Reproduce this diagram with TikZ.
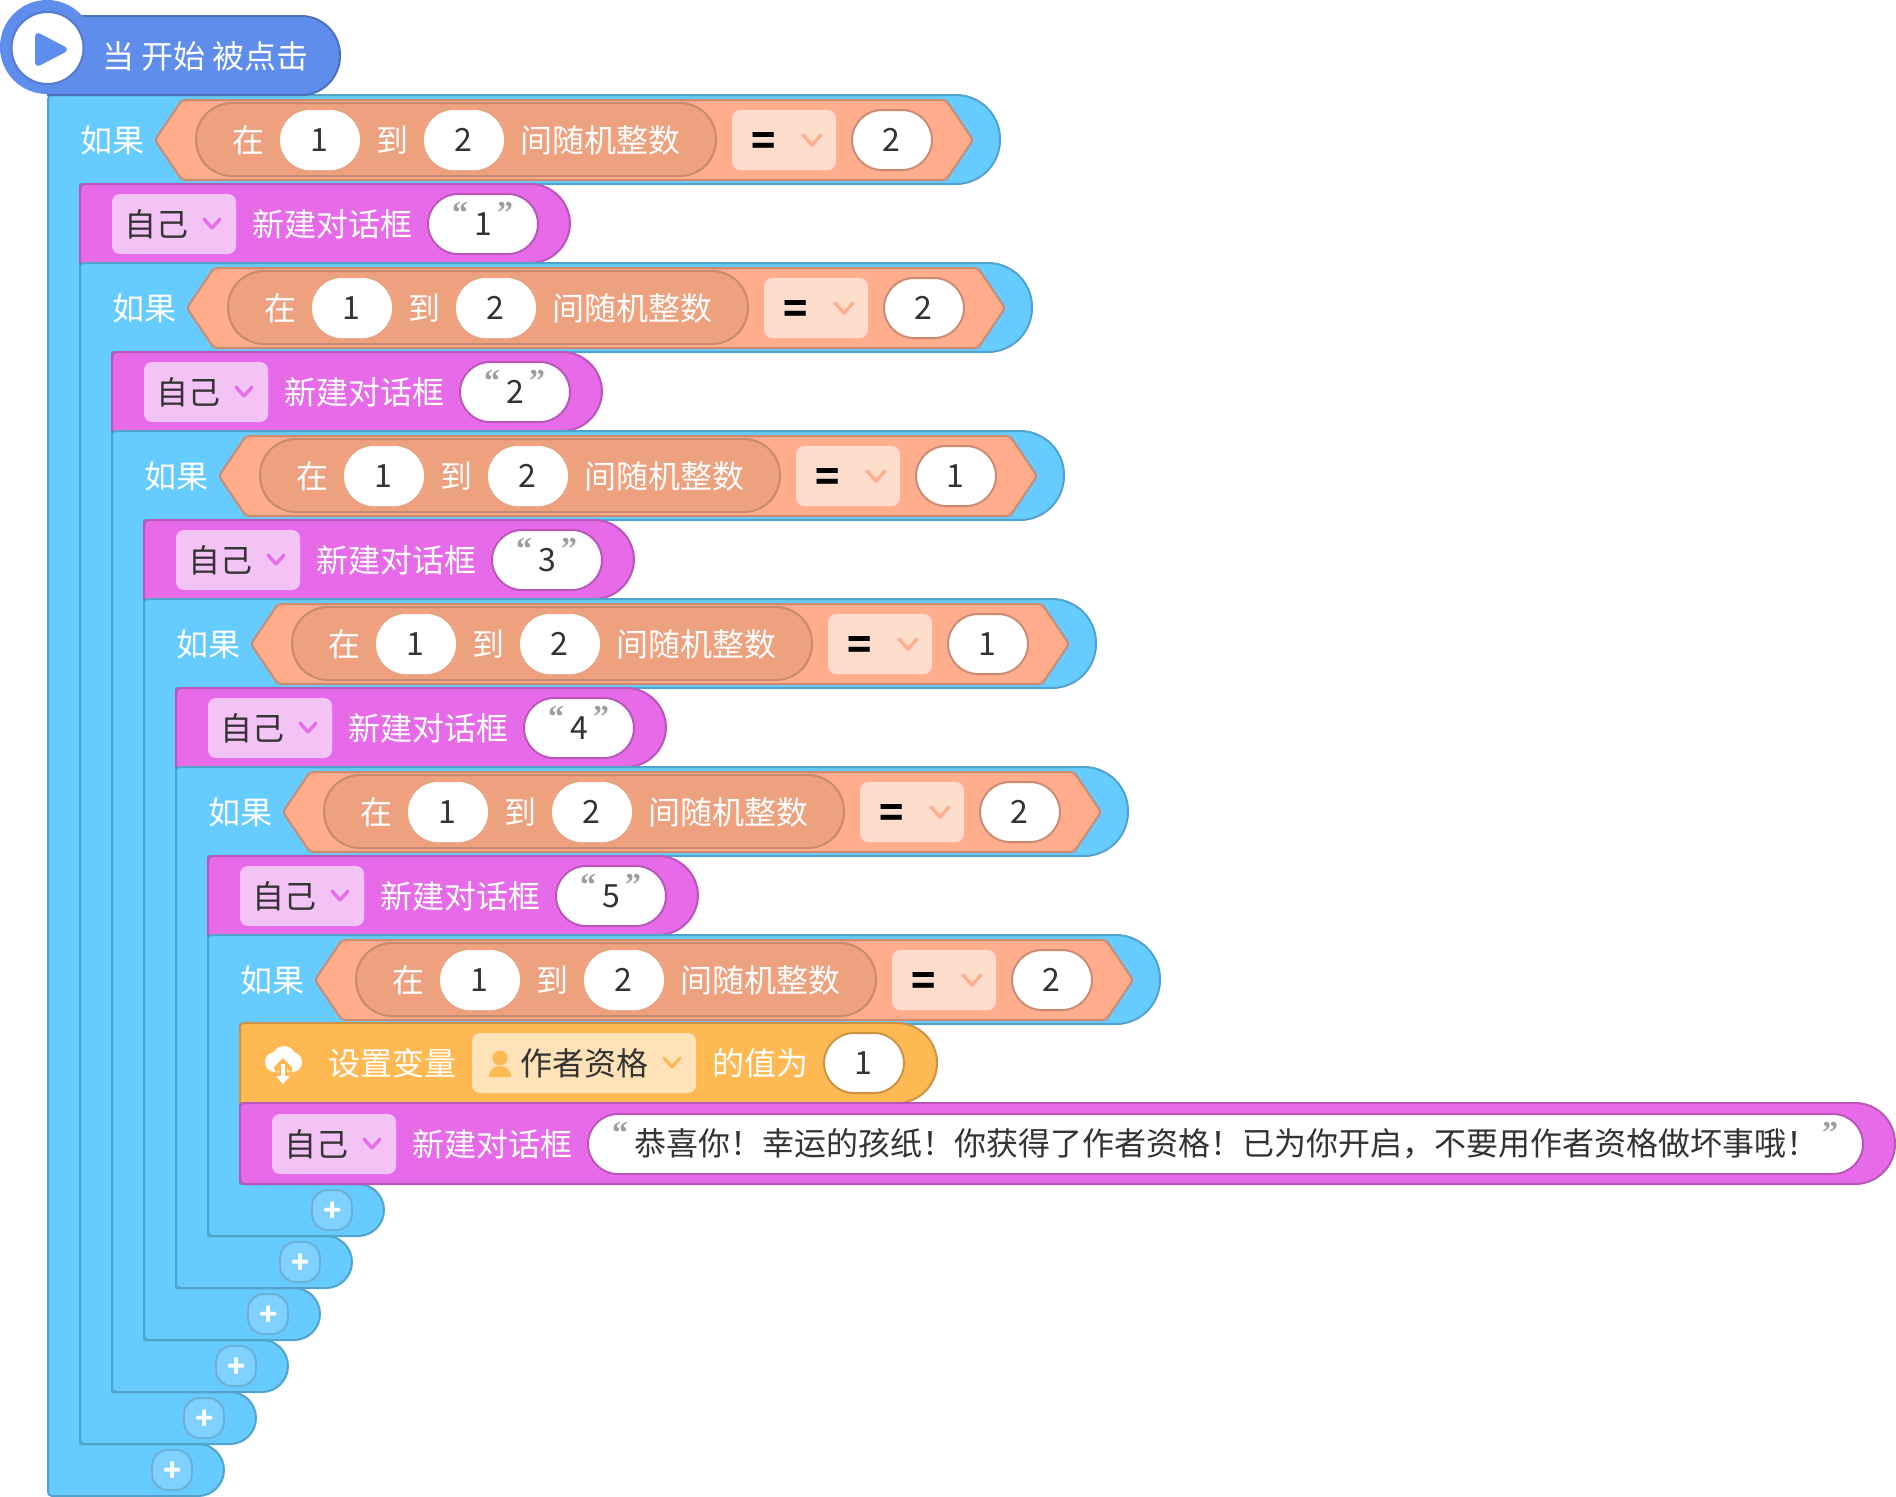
\documentclass[tikz,border=0pt]{standalone}
\usepackage{fontspec}
\setmainfont{Noto Sans CJK SC}
\newfontfamily\quotefont{Liberation Serif}
\definecolor{hatblue}{HTML}{5E8DEC}
\definecolor{hatline}{HTML}{4B71BD}
\definecolor{ifblue}{HTML}{66CCFF}
\definecolor{ifline}{HTML}{52A3CC}
\definecolor{plusblue}{HTML}{7FD2FF}
\definecolor{hexfill}{HTML}{FFAD8C}
\definecolor{hexline}{HTML}{CC8A70}
\definecolor{randfill}{HTML}{EDA17F}
\definecolor{randline}{HTML}{C98A6E}
\definecolor{opfill}{HTML}{FFDDCC}
\definecolor{saypink}{HTML}{E76BE8}
\definecolor{sayline}{HTML}{B856BA}
\definecolor{saydrop}{HTML}{F3C3F5}
\definecolor{setorange}{HTML}{FFB952}
\definecolor{setline}{HTML}{CC9442}
\definecolor{setdrop}{HTML}{FFE2B8}
\definecolor{darktext}{HTML}{333333}
\tikzset{
  label/.style={inner sep=0pt,text=white,font=\fontsize{16pt}{16pt}\selectfont},
  darklabel/.style={label,text=darktext},
  value/.style={darklabel,fill=white,rounded corners=15pt,minimum width=40pt,minimum height=30pt,execute at begin node={\kern-1pt}},
  dropbox/.style={rounded corners=4pt,minimum height=30pt,inner sep=0pt},
  chevron/.style={line width=1.6pt,line cap=round,line join=round},
  quotemark/.style={inner sep=0pt,text=gray!75,font=\quotefont\bfseries\fontsize{16pt}{16pt}\selectfont},
  plusbutton/.style={draw=ifline!85,line width=1pt,fill=plusblue,rounded corners=8pt,minimum size=20pt,inner sep=0pt,text=white,font=\bfseries\fontsize{15pt}{15pt}\selectfont},
}

\begin{document}
\begin{tikzpicture}[x=0.5pt,y=-0.5pt]
\useasboundingbox (0,0) rectangle (1896,1496);

% If blocks, outermost first
\foreach \i/\val/\say in {0/2/1,1/2/2,2/1/3,3/1/4,4/2/5,5/2/}{
  \begin{scope}[shift={({48+32*\i},{95+168*\i})}]
    \pgfmathsetmacro{\bottom}{1401-220*\i}
    % C shape
    \draw[fill=ifblue,draw=ifline,line width=1pt,line join=round]
      (0,40) [rounded corners=2pt] -- (0,0) [rounded corners=22pt] -- (952,0) -- (952,89)
      [sharp corners] -- (32,89) -- (32,\bottom-52) [rounded corners=13pt] -- (176,\bottom-52) -- (176,\bottom)
      [rounded corners=2pt] -- (0,\bottom) -- cycle;
    \node[plusbutton] (plus\i) at (124,\bottom-26) {\kern1pt\raisebox{-1pt}[\height][\depth]{+}};
    % Condition
    \node[label] (ifword\i) at (64,45) {如果};
    \draw[fill=hexfill,draw=hexline,line width=1pt,rounded corners=1.5pt]
      (107,45) -- (134,5) -- (898,5) -- (925,45) -- (898,85) -- (134,85) -- cycle;
    \node[fill=randfill,draw=randline,line width=1pt,rounded corners=18pt,minimum width=260pt,minimum height=36.5pt] (rand\i) at (408,44.5) {};
    \node[label] (at\i) at (200,45) {在};
    \node[value] (low\i) at (272,45) {1};
    \node[label] (to\i) at (344,45) {到};
    \node[value] (high\i) at (416,45) {2};
    \node[label] (randword\i) at (552,45) {间随机整数};
    \node[dropbox,fill=opfill,minimum width=52pt] (op\i) at (736,45) {};
    \node[inner sep=0pt,font=\bfseries\fontsize{20pt}{20pt}\selectfont] (eq\i) at (716,48.5) {=};
    \draw[chevron,hexfill] (755,40) -- (764,50) -- (773,40);
    \node[value,draw=hexline,line width=1pt] (cmp\i) at (844,45) {\val};
    % Say block
    \ifx\say\empty\else
      \draw[fill=saypink,draw=sayline,line width=1pt]
        (32,168) [rounded corners=2pt] -- (32,89) [rounded corners=20pt] -- (522,89) -- (522,168) [sharp corners] -- cycle;
      \node[dropbox,fill=saydrop,minimum width=62pt] (who\i) at (126,129) {};
      \node[darklabel] (self\i) at (108.5,129) {自己};
      \draw[chevron,saypink] (156,124) -- (164,133) -- (172,124);
      \node[label] (dialog\i) at (284,129) {新建对话框};
      \node[value,draw=sayline,line width=1pt,minimum width=55pt] (msg\i) at (435,129) {\kern1pt\say};
      \node[quotemark] (open\i) at (412,118) {“};
      \node[quotemark] (close\i) at (457,118) {”};
    \fi
  \end{scope}
}

% Set variable
\draw[fill=setorange,draw=setline,line width=1pt]
  (240,1103) [rounded corners=2pt] -- (240,1023) [rounded corners=20pt] -- (937,1023) -- (937,1103) [sharp corners] -- cycle;
\fill[white] (275,1062) circle (10) (292,1062) circle (10) (284,1058) circle (12) (275,1060) rectangle (292,1072);
\draw[setorange,line width=4pt] (283,1066) -- (283,1077);
\draw[setorange,line width=2pt,line cap=round] (276,1068) -- (283,1061) -- (290,1068);
\draw[white,line width=1.7pt] (283,1064) -- (283,1079);
\fill[white] (276,1076) -- (290,1076) -- (283,1084) -- cycle;
\node[label] (setword) at (392,1063) {设置变量};
\node[dropbox,fill=setdrop,minimum width=112pt] (varbox) at (584,1063) {};
\fill[setorange] (500,1058) circle (7.5);
\fill[setorange] (489,1077) .. controls (489,1069) and (495,1066) .. (500,1066) .. controls (505,1066) and (511,1069) .. (511,1077) -- cycle;
\node[darklabel] (varname) at (584,1063) {作者资格};
\draw[chevron,setorange] (664,1058) -- (672,1067) -- (680,1058);
\node[label] (ofword) at (760,1063) {的值为};
\node[value,draw=setline,line width=1pt] (setval) at (864,1063) {1};

% Last say block
\draw[fill=saypink,draw=sayline,line width=1pt]
  (240,1184) [rounded corners=2pt] -- (240,1103) [rounded corners=20pt] -- (1895,1103) -- (1895,1184) [rounded corners=2pt] -- cycle;
\node[dropbox,fill=saydrop,minimum width=62pt] (lastwho) at (334,1144) {};
\node[darklabel] (lastself) at (316.5,1144) {自己};
\draw[chevron,saypink] (364,1139) -- (372,1148) -- (380,1139);
\node[label] (lastdialog) at (492,1144) {新建对话框};
\node[value,draw=sayline,line width=1pt,minimum width=637.5pt] (lastmsg) at (1225.5,1144) {};
\node[quotemark] (lastopen) at (620,1133) {“};
\node[darklabel,anchor=west] (lasttext) at (634,1144) {恭喜你！幸运的孩纸！你获得了作者资格！已为你开启，不要用作者资格做坏事哦！};
\node[quotemark] (lastclose) at (1830,1133) {”};

% Hat
\draw[fill=hatblue,draw=hatline,line width=1pt] (47,16) [rounded corners=19.5pt] -- (340,16) -- (340,95) [sharp corners] -- (47,95);
\fill[hatblue] (47,47) circle (47);
\fill[white,draw=hatline!60!hatblue,line width=1pt] (47.5,48) circle (36);
\draw[fill=hatblue,draw=hatblue,line width=3pt,line join=round] (38,36) -- (64,49.5) -- (38,63) -- cycle;
\node[label] (hatword) at (205.5,56) {当 开始 被点击};
\end{tikzpicture}
\end{document}
